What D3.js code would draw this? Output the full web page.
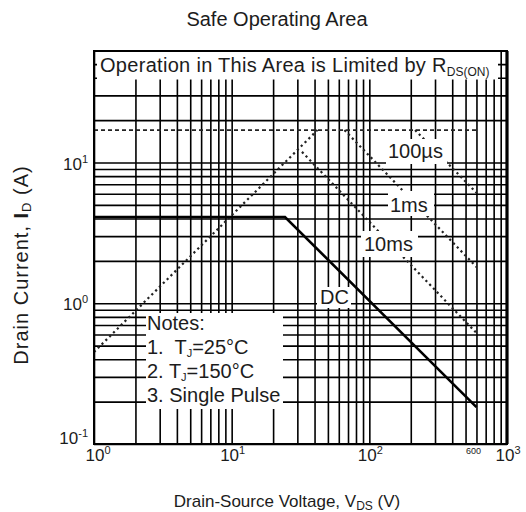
<!DOCTYPE html>
<html><head><meta charset="utf-8">
<script src="https://cdn.jsdelivr.net/npm/d3@7"></script>
<style>
body{margin:0;background:#fff}
svg{display:block}
text{font-family:"Liberation Sans",Arial,Helvetica,sans-serif;fill:#1c1c1c;white-space:pre}
</style>
</head><body>
<svg id="c" width="526" height="512"></svg>
<script>
// ---- data ----
const xDomain = [1, 1000];
const yDomain = [0.1, 62];
const xTicks = [1, 10, 100, 1000];
const yTicks = [0.1, 1, 10];
const xTickExp = ["0", "1", "2", "3"];
const yTickExp = ["-1", "0", "1"];
const idmLine = [[1, 17], [600, 17]];
const rdsLine = [[1, 0.45], [42, 17]];
const us100Line = [[215, 17], [600, 6.1]];
const ms1Line = [[66, 17], [600, 1.81]];
const ms10Line = [[32.4, 11.9], [600, 0.615]];
const dcLine = [[1, 4.1], [24.4, 4.1], [600, 0.183]];
const noteLines = ["Notes:", ["1.  T", "J", "=25°C"], ["2. T", "J", "=150°C"], "3. Single Pulse"];

// ---- chart ----
const svg = d3.select("#c");
const L = 94, R = 507, T = 51, B = 444;
const x = d3.scaleLog().domain(xDomain).range([L, R]);
const y = d3.scaleLog().domain(yDomain).range([B, T]);

const gridX = [], gridY = [];
[1, 10, 100].forEach(d => { for (let k = 1; k <= 9; k++) gridX.push(d * k); });
[0.1, 1, 10].forEach(d => { for (let k = 1; k <= 9; k++) { const v = d * k; if (y(v) > T + 8) gridY.push(v); } });

const gx = svg.append("g").attr("transform", `translate(0,${B})`)
  .call(d3.axisBottom(x).tickValues(gridX).tickSize(-(B - T)).tickFormat(""));
const gy = svg.append("g").attr("transform", `translate(${L},0)`)
  .call(d3.axisLeft(y).tickValues(gridY).tickSize(-(R - L)).tickFormat(""));
[gx, gy].forEach(g => {
  g.select(".domain").remove();
  g.selectAll("line").attr("stroke", "#000").attr("stroke-width", 1.6);
});

const line = d3.line().x(d => x(d[0])).y(d => y(d[1]));
svg.append("path").attr("d", line(idmLine)).attr("fill", "none")
  .attr("stroke", "#222").attr("stroke-width", 1.6).attr("stroke-dasharray", "4,3");
[rdsLine, us100Line, ms1Line, ms10Line].forEach(s => {
  svg.append("path").attr("d", line(s)).attr("fill", "none")
    .attr("stroke", "#222").attr("stroke-width", 2.2).attr("stroke-dasharray", "2.2,3.2");
});
svg.append("path").attr("d", line(dcLine)).attr("fill", "none")
  .attr("stroke", "#000").attr("stroke-width", 2.6);

// white label boxes
function box(x0, y0, w, h) { svg.append("rect").attr("x", x0).attr("y", y0).attr("width", w).attr("height", h).attr("fill", "#fff"); }
box(97, 52, 401, 27.5);
box(146, 313, 137, 96);
const annos = [
  { t: "100µs", x: 388, y: 158, b: [386, 139, 61, 25] },
  { t: "1ms", x: 390, y: 212, b: [388, 191, 46, 25] },
  { t: "10ms", x: 364, y: 251, b: [361, 231, 57, 26] },
  { t: "DC", x: 320, y: 304, b: [317, 287, 34, 21] }
];
annos.forEach(a => {
  box(...a.b);
  svg.append("text").attr("x", a.x).attr("y", a.y).attr("font-size", 20).text(a.t);
});

// border
svg.append("rect").attr("x", L).attr("y", T).attr("width", R - L).attr("height", B - T)
  .attr("fill", "none").attr("stroke", "#000").attr("stroke-width", 2);
svg.append("line").attr("x1", R).attr("x2", R).attr("y1", T).attr("y2", B)
  .attr("stroke", "#000").attr("stroke-width", 3.2);

// top text
const tt = svg.append("text").attr("x", 100).attr("y", 72).attr("font-size", 20).attr("letter-spacing", 0.3);
tt.append("tspan").text("Operation in This Area is Limited by R");
tt.append("tspan").attr("font-size", 12).attr("dy", 4).attr("letter-spacing", 0).text("DS(ON)");

// notes
const noteY = [330, 354, 378, 402];
noteLines.forEach((n, i) => {
  const t = svg.append("text").attr("x", 147).attr("y", noteY[i]).attr("font-size", 20);
  if (typeof n === "string") t.text(n);
  else {
    t.append("tspan").text(n[0]);
    t.append("tspan").attr("font-size", 11).attr("dy", 2.5).text(n[1]);
    t.append("tspan").attr("dy", -2.5).text(n[2]);
  }
});

// tick labels
xTicks.forEach((v, i) => {
  const t = svg.append("text").attr("x", x(v) + (i === 0 ? 4 : 1)).attr("y", 461)
    .attr("text-anchor", "middle").attr("font-size", 17);
  t.append("tspan").text("10");
  t.append("tspan").attr("font-size", 11).attr("dy", -7).text(xTickExp[i]);
});
yTicks.forEach((v, i) => {
  const t = svg.append("text").attr("x", 88).attr("y", y(v) + (i === 0 ? 0 : 7))
    .attr("text-anchor", "end").attr("font-size", 17);
  t.append("tspan").text("10");
  t.append("tspan").attr("font-size", 11).attr("dy", -7).text(yTickExp[i]);
});
svg.append("text").attr("x", 481).attr("y", 454).attr("text-anchor", "end")
  .attr("font-size", 9).text("600");

// title & axis titles
svg.append("text").attr("x", 277).attr("y", 26).attr("text-anchor", "middle")
  .attr("font-size", 20).text("Safe Operating Area");
const xl = svg.append("text").attr("x", 287).attr("y", 507).attr("text-anchor", "middle").attr("font-size", 17);
xl.append("tspan").text("Drain-Source Voltage, V");
xl.append("tspan").attr("font-size", 12).attr("dy", 3).text("DS");
xl.append("tspan").attr("dy", -3).text(" (V)");
const yl = svg.append("text").attr("transform", "translate(28,265) rotate(-90)")
  .attr("text-anchor", "middle").attr("font-size", 20).attr("letter-spacing", 1);
yl.append("tspan").text("Drain Current, ");
yl.append("tspan").attr("font-weight", "bold").text("I");
yl.append("tspan").attr("font-size", 13).attr("dy", 3).text("D");
yl.append("tspan").attr("dy", -3).text(" (A)");
</script>
</body></html>
